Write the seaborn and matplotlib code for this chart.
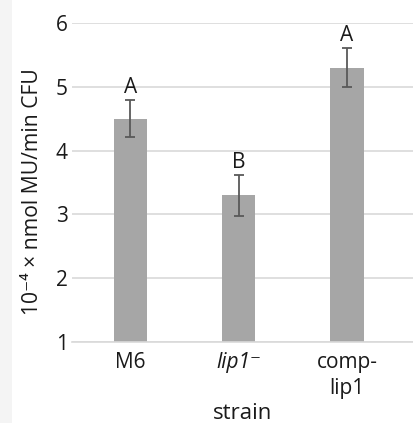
import matplotlib
matplotlib.use("Agg")
import matplotlib.pyplot as plt
import seaborn as sns
import pandas as pd
from matplotlib.patches import Rectangle

strains = ["M6", "lip1\u207b", "comp-\nlip1"]
values = [4.5, 3.3, 5.3]
errors = [0.29, 0.32, 0.30]
letters = ["A", "B", "A"]
yticks = [1, 2, 3, 4, 5, 6]

sns.set_theme(style="white")
plt.rcParams['font.family'] = ['Open Sans', 'DejaVu Sans']

fig = plt.figure(figsize=(4.14, 4.23), dpi=100)
fig.patch.set_facecolor('#f4f4f4')
fig.patches.append(Rectangle((12/414, 0), 1 - 12/414, 1,
                             transform=fig.transFigure, facecolor='white',
                             edgecolor='none', zorder=-10))
ax = fig.add_axes([0.174, 0.1915, 0.826, 0.7545])
ax.set_facecolor('none')

df = pd.DataFrame({"strain": strains, "value": values})
sns.barplot(data=df, x="strain", y="value", color="#a6a6a6", saturation=1,
            width=0.31, ax=ax, zorder=2)
for p in ax.patches:
    p.set_edgecolor('none')

xs = list(range(len(strains)))
ax.errorbar(xs, values, yerr=errors, fmt='none', ecolor='#595959',
            elinewidth=1.3, capsize=3.8, capthick=1.3, zorder=3)
for x, v, e, l in zip(xs, values, errors, letters):
    ax.text(x, v + e + 0.03, l, ha='center', va='bottom', fontsize=15,
            color='#1a1a1a')

ax.set_ylim(1, 6)
ax.set_xlim(-0.54, 2.62)
ax.set_yticks(yticks)
ax.set_yticklabels([str(t) for t in yticks])
ax.yaxis.grid(True, color='#d9d9d9', linewidth=1.2, zorder=0)
ax.set_axisbelow(True)
for s in ['top', 'right', 'left']:
    ax.spines[s].set_visible(False)
ax.spines['bottom'].set_color('#d9d9d9')
ax.spines['bottom'].set_linewidth(1.2)
ax.tick_params(axis='both', length=0, labelsize=15, colors='#1a1a1a')
ax.tick_params(axis='x', pad=7)
ax.tick_params(axis='y', pad=3)
labs = ax.get_xticklabels()
labs[1].set_fontstyle('italic')
for t in labs:
    t.set_linespacing(1.3)
ax.set_xlabel("strain", fontsize=16, color='#1a1a1a', labelpad=3)
ax.set_ylabel("10\u207b\u2074 \u00d7 nmol MU/min CFU", fontsize=15.2,
              color='#1a1a1a')
ax.yaxis.set_label_coords(-0.085, 0.47)

fig.savefig("out.png", dpi=100, facecolor=fig.get_facecolor())
